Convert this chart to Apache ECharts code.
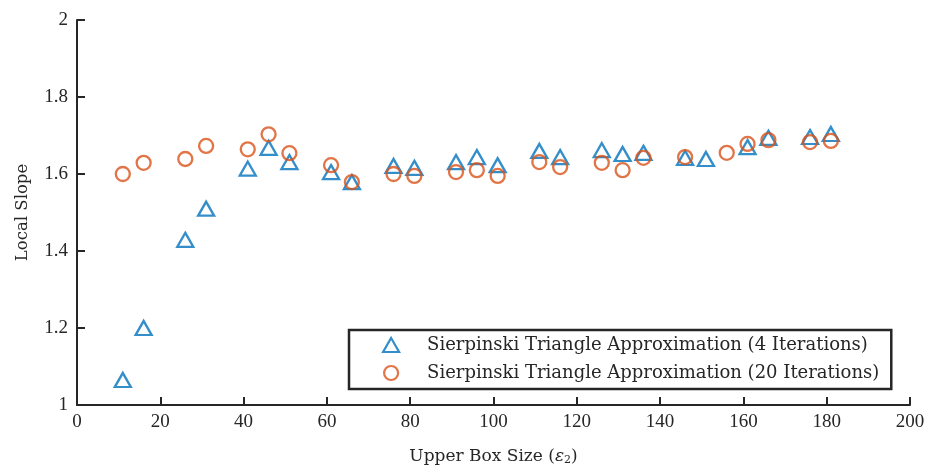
<!DOCTYPE html>
<html>
<head>
<meta charset="utf-8">
<script src="https://cdn.jsdelivr.net/npm/echarts@6/dist/echarts.min.js"></script>
<style>html,body{margin:0;padding:0;background:#fff}#c{width:933px;height:472px}</style>
</head>
<body>
<div id="c"></div>
<script>
var boxSizes = [11,16,26,31,41,46,51,61,66,76,81,91,96,101,111,116,126,131,136,146,151,161,166,176,181];
var slope4 = [1.065,1.200,1.429,1.510,1.614,1.668,1.631,1.605,1.579,1.621,1.616,1.631,1.644,1.623,1.660,1.644,1.662,1.652,1.655,1.642,1.639,1.670,1.694,1.696,1.704];
var boxSizes20 = [11,16,26,31,41,46,51,61,66,76,81,91,96,101,111,116,126,131,136,146,156,161,166,176,181];
var slope20 = [1.600,1.629,1.639,1.673,1.664,1.703,1.654,1.623,1.579,1.600,1.595,1.605,1.610,1.595,1.631,1.618,1.629,1.610,1.642,1.644,1.655,1.678,1.688,1.683,1.686];
var xTicks = [0,20,40,60,80,100,120,140,160,180,200];
var yTicks = [1,1.2,1.4,1.6,1.8,2];
var seriesNames = ['Sierpinski Triangle Approximation (4 Iterations)','Sierpinski Triangle Approximation (20 Iterations)'];

function pairs(xs, ys){ return xs.map(function(x,i){ return [x, ys[i]]; }); }

var FONT = 'DejaVu Serif';
var NUMFONT = 'Liberation Serif';
var AX = '#262626';
var chart = echarts.init(document.getElementById('c'), null, {renderer:'canvas'});
chart.setOption({
  animation:false,
  backgroundColor:'#fff',
  textStyle:{fontFamily:FONT},
  grid:{left:77, right:23, top:20, bottom:67, containLabel:false, outerBoundsMode:'none'},
  xAxis:{
    type:'value', min:xTicks[0], max:xTicks[xTicks.length-1], interval:20,
    name:'{n|Upper Box Size (}{e|ε}{s|2}{n|)}', nameLocation:'middle', nameGap:42,
    nameTextStyle:{fontFamily:FONT, fontSize:17, color:AX,
      rich:{n:{fontFamily:FONT,fontSize:17,color:AX}, e:{fontFamily:FONT,fontSize:17,fontStyle:'italic',color:AX}, s:{fontFamily:FONT,fontSize:11,color:AX,verticalAlign:'bottom',padding:[8,0,0,0]}}},
    axisLine:{show:true, onZero:false, lineStyle:{color:AX, width:2}},
    axisTick:{show:true, inside:true, length:8, lineStyle:{color:AX, width:2}},
    axisLabel:{fontFamily:NUMFONT, fontSize:19, color:AX, margin:8},
    splitLine:{show:false}
  },
  yAxis:{
    type:'value', min:yTicks[0], max:yTicks[yTicks.length-1], interval:0.2,
    name:'Local Slope', nameLocation:'middle', nameGap:46,
    nameTextStyle:{fontFamily:FONT, fontSize:16.5, color:AX},
    axisLine:{show:true, onZero:false, lineStyle:{color:AX, width:2}},
    axisTick:{show:true, inside:true, length:8, lineStyle:{color:AX, width:2}},
    axisLabel:{fontFamily:NUMFONT, fontSize:19, color:AX, margin:9,
      formatter:function(v){ return (Math.round(v*10)/10).toString(); }},
    splitLine:{show:false}
  },
  legend:{
    orient:'vertical', left:349, top:330,
    backgroundColor:'#fff', borderColor:AX, borderWidth:2.5, borderRadius:0,
    padding:[6,12,7,33], itemGap:10, itemWidth:16, itemHeight:14,
    textStyle:{fontFamily:FONT, fontSize:18, color:AX, padding:[0,0,0,23]},
    data:[
      {name:seriesNames[0], icon:'triangle', itemStyle:{color:'transparent', borderColor:'#0072BD', borderWidth:2.2}},
      {name:seriesNames[1], icon:'circle', itemStyle:{color:'transparent', borderColor:'#D95319', borderWidth:2.2}}
    ]
  },
  series:[
    {name:seriesNames[0], type:'scatter', data:pairs(boxSizes, slope4), symbol:'triangle', symbolSize:[16,14],
     itemStyle:{color:'transparent', borderColor:'#0072BD', borderWidth:2.3}, z:2},
    {name:seriesNames[1], type:'scatter', data:pairs(boxSizes20, slope20), symbol:'circle', symbolSize:14,
     itemStyle:{color:'transparent', borderColor:'#D95319', borderWidth:2.3}, z:3}
  ]
});
</script>
</body>
</html>
